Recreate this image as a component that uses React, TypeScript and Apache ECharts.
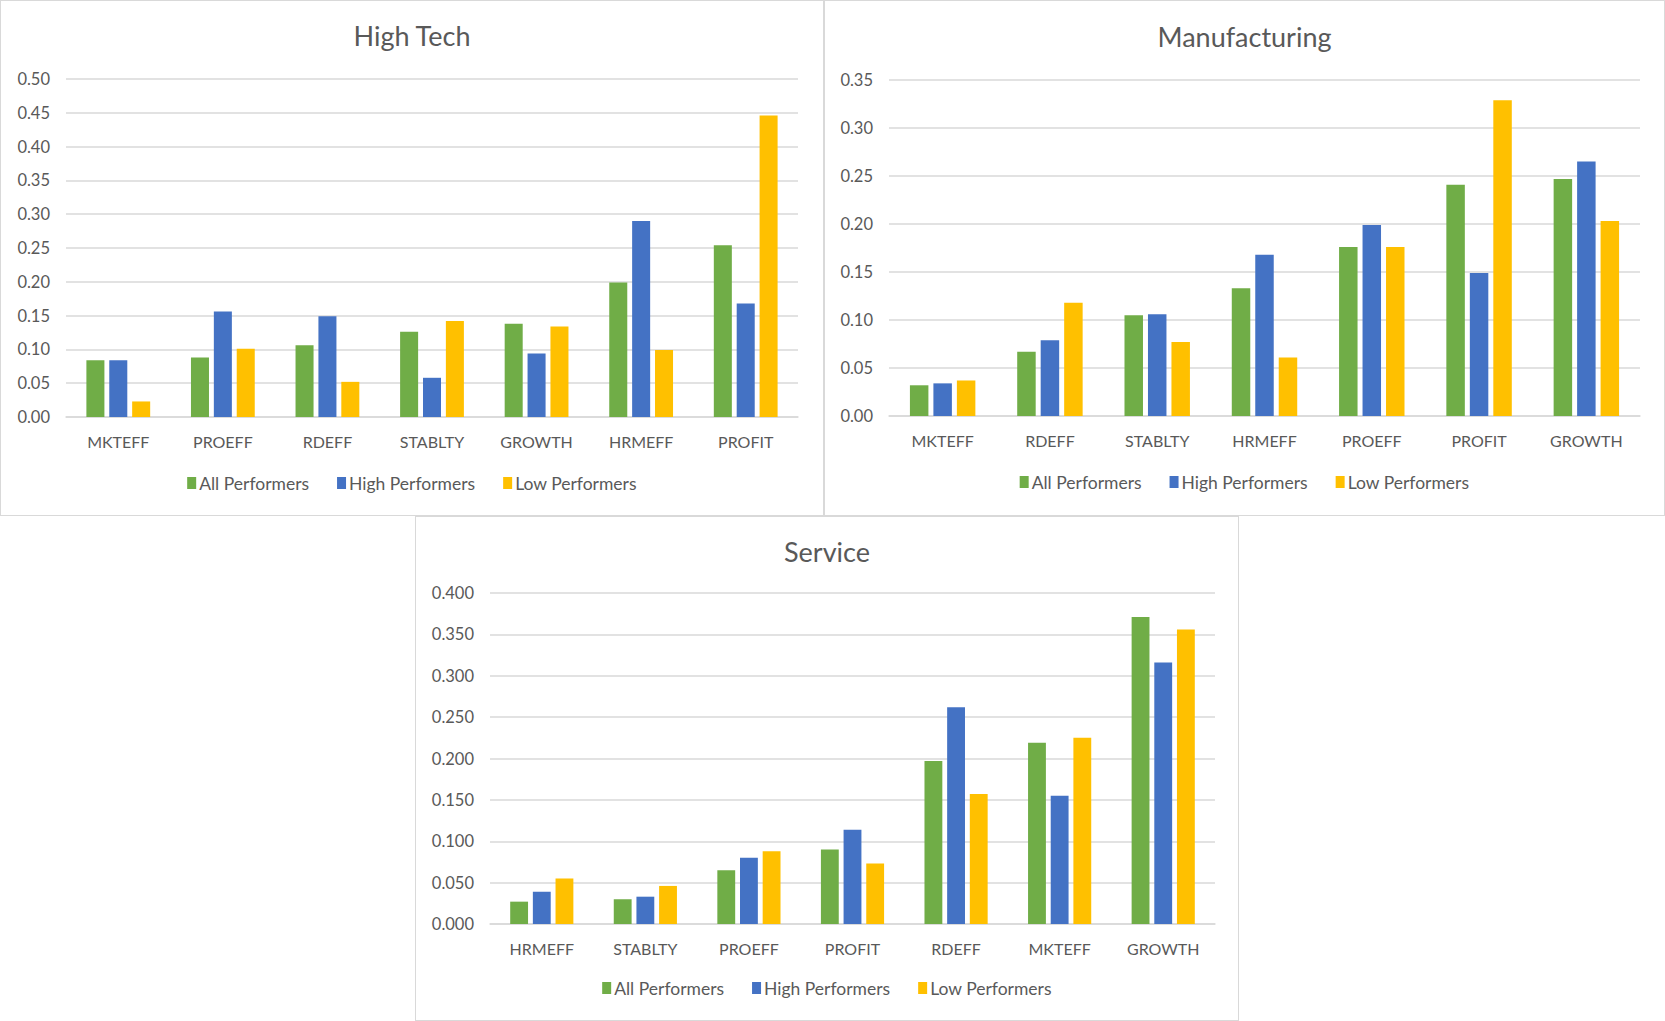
import React, { useEffect, useRef } from "react";
import * as echarts from "echarts";

const seriesNames = ["All Performers", "High Performers", "Low Performers"];
const seriesColors = ["#70AD47", "#4472C4", "#FFC000"];

const htCategories = ["MKTEFF", "PROEFF", "RDEFF", "STABLTY", "GROWTH", "HRMEFF", "PROFIT"];
const htAll = [0.084, 0.088, 0.106, 0.126, 0.138, 0.199, 0.254];
const htHigh = [0.084, 0.156, 0.149, 0.058, 0.094, 0.29, 0.168];
const htLow = [0.023, 0.101, 0.052, 0.142, 0.134, 0.099, 0.446];

const mfCategories = ["MKTEFF", "RDEFF", "STABLTY", "HRMEFF", "PROEFF", "PROFIT", "GROWTH"];
const mfAll = [0.032, 0.067, 0.105, 0.133, 0.176, 0.241, 0.247];
const mfHigh = [0.034, 0.079, 0.106, 0.168, 0.199, 0.149, 0.265];
const mfLow = [0.037, 0.118, 0.077, 0.061, 0.176, 0.329, 0.203];

const svCategories = ["HRMEFF", "STABLTY", "PROEFF", "PROFIT", "RDEFF", "MKTEFF", "GROWTH"];
const svAll = [0.027, 0.03, 0.065, 0.09, 0.197, 0.219, 0.371];
const svHigh = [0.039, 0.033, 0.08, 0.114, 0.262, 0.155, 0.316];
const svLow = [0.055, 0.046, 0.088, 0.073, 0.157, 0.225, 0.356];

const FONT = "Lato, 'Noto Sans', sans-serif";
const TEXT = "#595959";

type PanelProps = {
  title: string;
  categories: string[];
  values: number[][];
  yMax: number;
  decimals: number;
  left: number;
  top: number;
  width: number;
  height: number;
  grid: { left: number; right: number; top: number; bottom: number };
  titleTop: number;
  legendTop: number;
};

function Panel(p: PanelProps) {
  const ref = useRef<HTMLDivElement>(null);
  useEffect(() => {
    if (!ref.current) return;
    const chart = echarts.init(ref.current, undefined, { renderer: "svg" });
    chart.setOption({
      animation: false,
      backgroundColor: "#ffffff",
      textStyle: { fontFamily: FONT },
      title: {
        text: p.title,
        left: "center",
        top: p.titleTop,
        padding: 0,
        textStyle: { fontFamily: FONT, fontSize: 27, fontWeight: "normal", color: TEXT },
      },
      legend: {
        data: seriesNames,
        top: p.legendTop,
        left: "center",
        padding: 0,
        itemWidth: 9,
        itemHeight: 12,
        itemGap: 28,
        icon: "rect",
        textStyle: { fontFamily: FONT, fontSize: 17.5, color: TEXT, padding: [0, 0, 0, -2] },
      },
      grid: { ...p.grid, containLabel: false },
      xAxis: {
        type: "category",
        data: p.categories,
        axisLine: { lineStyle: { color: "#D9D9D9", width: 1.5 } },
        axisTick: { show: false },
        axisLabel: { color: TEXT, fontFamily: FONT, fontSize: 16, margin: 16 },
      },
      yAxis: {
        type: "value",
        min: 0,
        max: p.yMax,
        interval: 0.05,
        axisLine: { show: false },
        axisTick: { show: false },
        splitLine: { lineStyle: { color: "#D9D9D9", width: 1.5 } },
        axisLabel: {
          color: TEXT,
          fontFamily: FONT,
          fontSize: 16.5,
          margin: 16,
          formatter: (v: number) => v.toFixed(p.decimals),
        },
      },
      series: seriesNames.map((name, i) => ({
        name,
        type: "bar",
        data: p.values[i],
        itemStyle: { color: seriesColors[i] },
        barGap: "27%",
        barCategoryGap: "39%",
      })),
    });
    return () => chart.dispose();
  }, []);
  return (
    <div
      style={{
        position: "absolute",
        left: p.left,
        top: p.top,
        width: p.width,
        height: p.height,
        border: "1.5px solid #D9D9D9",
        boxSizing: "border-box",
        background: "#fff",
      }}
    >
      <div ref={ref} style={{ width: "100%", height: "100%" }} />
    </div>
  );
}

export default function App() {
  return (
    <div style={{ position: "absolute", left: 0, top: 0, width: 1665, height: 1021, background: "#fff", overflow: "hidden" }}>
      <Panel
        title="High Tech"
        categories={htCategories}
        values={[htAll, htHigh, htLow]}
        yMax={0.5}
        decimals={2}
        left={0}
        top={0}
        width={824}
        height={516}
        grid={{ left: 65, right: 25, top: 78, bottom: 98 }}
        titleTop={21}
        legendTop={473}
      />
      <Panel
        title="Manufacturing"
        categories={mfCategories}
        values={[mfAll, mfHigh, mfLow]}
        yMax={0.35}
        decimals={2}
        left={824}
        top={0}
        width={841}
        height={516}
        grid={{ left: 64, right: 24, top: 79, bottom: 99 }}
        titleTop={22}
        legendTop={472}
      />
      <Panel
        title="Service"
        categories={svCategories}
        values={[svAll, svHigh, svLow]}
        yMax={0.4}
        decimals={3}
        left={415}
        top={516}
        width={824}
        height={505}
        grid={{ left: 74, right: 23, top: 76, bottom: 96 }}
        titleTop={21}
        legendTop={462}
      />
    </div>
  );
}
